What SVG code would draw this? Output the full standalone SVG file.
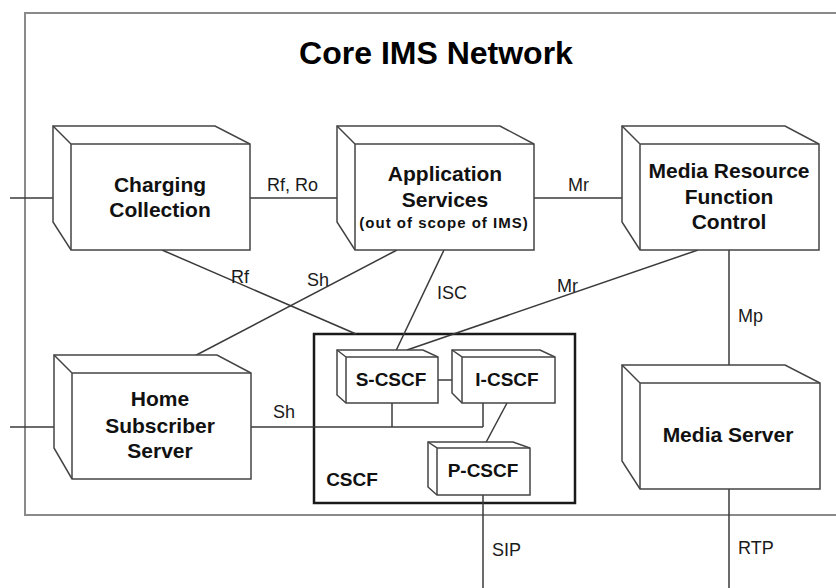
<svg xmlns="http://www.w3.org/2000/svg" width="836" height="588" viewBox="0 0 836 588">
  <style>
    .frame { fill: none; stroke: #8a8a8a; stroke-width: 2; }
    .link { fill: none; stroke: #3a3a3a; stroke-width: 1.5; }
    .box { fill: #ffffff; stroke: #444444; stroke-width: 1.5; stroke-linejoin: miter; }
    .edge { fill: none; stroke: #444444; stroke-width: 1.5; }
    .group { fill: none; stroke: #1a1a1a; stroke-width: 2.5; }
    .node { font-family: "Liberation Sans", Arial, sans-serif; font-weight: bold; font-size: 21px; fill: #111111; text-anchor: middle; }
    .small { font-size: 19px; }
    .note { font-size: 15px; letter-spacing: 1px; }
    .label { font-family: "Liberation Sans", Arial, sans-serif; font-size: 18px; fill: #1a1a1a; }
    .title { font-family: "Liberation Sans", Arial, sans-serif; font-weight: bold; font-size: 32px; fill: #000000; text-anchor: middle; }
  </style>

  <rect width="836" height="588" fill="#ffffff"/>

  <!-- network boundary, open on the right -->
  <path class="frame" d="M836,13 H25 V515 H836"/>
  <text class="title" x="436" y="64">Core IMS Network</text>

  <!-- CSCF container -->
  <g id="cscf">
    <rect class="group" x="314" y="334" width="261" height="169"/>
    <text class="node small" x="352" y="486">CSCF</text>
  </g>

  <!-- interfaces -->
  <g id="connectors">
    <line class="link" x1="10" y1="198" x2="71" y2="198"/>
    <line class="link" x1="250" y1="198" x2="355" y2="198"/>
    <line class="link" x1="534" y1="198" x2="640" y2="198"/>
    <line class="link" x1="10" y1="427" x2="72" y2="427"/>
    <line class="link" x1="251" y1="427" x2="483" y2="427"/>
    <line class="link" x1="392" y1="403" x2="392" y2="427"/>
    <line class="link" x1="483" y1="403" x2="483" y2="427"/>
    <line class="link" x1="438" y1="380" x2="462" y2="380"/>
    <line class="link" x1="507" y1="403" x2="483" y2="448"/>
    <line class="link" x1="483" y1="495" x2="483" y2="588"/>
    <line class="link" x1="729" y1="250" x2="729" y2="383"/>
    <line class="link" x1="729" y1="489" x2="729" y2="588"/>
    <line class="link" x1="162" y1="250" x2="356" y2="334"/>
    <line class="link" x1="397" y1="250" x2="162" y2="373"/>
    <line class="link" x1="444" y1="250" x2="393" y2="357"/>
    <line class="link" x1="698" y1="250" x2="407" y2="350"/>

    <text class="label" x="267" y="191">Rf, Ro</text>
    <text class="label" x="568" y="191">Mr</text>
    <text class="label" x="231" y="283">Rf</text>
    <text class="label" x="307" y="286">Sh</text>
    <text class="label" x="437" y="299">ISC</text>
    <text class="label" x="557" y="292">Mr</text>
    <text class="label" x="273" y="418">Sh</text>
    <text class="label" x="738" y="322">Mp</text>
    <text class="label" x="492" y="556">SIP</text>
    <text class="label" x="738" y="554">RTP</text>
  </g>

  <!-- Charging Collection -->
  <g id="charging">
    <path class="box" d="M53,126 H215 L250,144 V250 H71 L53,222 Z"/>
    <path class="edge" d="M53,126 L71,144 V250 M71,144 H250"/>
    <text class="node" x="160" y="192">Charging</text>
    <text class="node" x="160" y="217">Collection</text>
  </g>

  <!-- Application Services -->
  <g id="app-services">
    <path class="box" d="M337,126 H500 L534,144 V250 H355 L337,222 Z"/>
    <path class="edge" d="M337,126 L355,144 V250 M355,144 H534"/>
    <text class="node" x="445" y="181">Application</text>
    <text class="node" x="445" y="207">Services</text>
    <text class="node note" x="444" y="228">(out of scope of IMS)</text>
  </g>

  <!-- Media Resource Function Control -->
  <g id="mrfc">
    <path class="box" d="M622,126 H785 L819,144 V250 H640 L622,222 Z"/>
    <path class="edge" d="M622,126 L640,144 V250 M640,144 H819"/>
    <text class="node" x="729" y="178">Media Resource</text>
    <text class="node" x="729" y="204">Function</text>
    <text class="node" x="729" y="229">Control</text>
  </g>

  <!-- Home Subscriber Server -->
  <g id="hss">
    <path class="box" d="M54,355 H217 L251,373 V479 H72 L54,448 Z"/>
    <path class="edge" d="M54,355 L72,373 V479 M72,373 H251"/>
    <text class="node" x="160" y="406">Home</text>
    <text class="node" x="160" y="433">Subscriber</text>
    <text class="node" x="160" y="458">Server</text>
  </g>

  <!-- Media Server -->
  <g id="media-server">
    <path class="box" d="M622,365 H785 L820,383 V489 H640 L622,461 Z"/>
    <path class="edge" d="M622,365 L640,383 V489 M640,383 H820"/>
    <text class="node" x="728" y="442">Media Server</text>
  </g>

  <!-- S-CSCF -->
  <g id="s-cscf">
    <path class="box" d="M337,350 H423 L438,357 V403 H346 L337,395 Z"/>
    <path class="edge" d="M337,350 L346,357 V403 M346,357 H438"/>
    <text class="node small" x="391" y="386">S-CSCF</text>
  </g>

  <!-- I-CSCF -->
  <g id="i-cscf">
    <path class="box" d="M452,350 H540 L555,357 V403 H462 L452,393 Z"/>
    <path class="edge" d="M452,350 L462,357 V403 M462,357 H555"/>
    <text class="node small" x="507" y="386">I-CSCF</text>
  </g>

  <!-- P-CSCF -->
  <g id="p-cscf">
    <path class="box" d="M428,442 H513 L530,448 V495 H437 L428,487 Z"/>
    <path class="edge" d="M428,442 L437,448 V495 M437,448 H530"/>
    <text class="node small" x="483" y="477">P-CSCF</text>
  </g>
</svg>
